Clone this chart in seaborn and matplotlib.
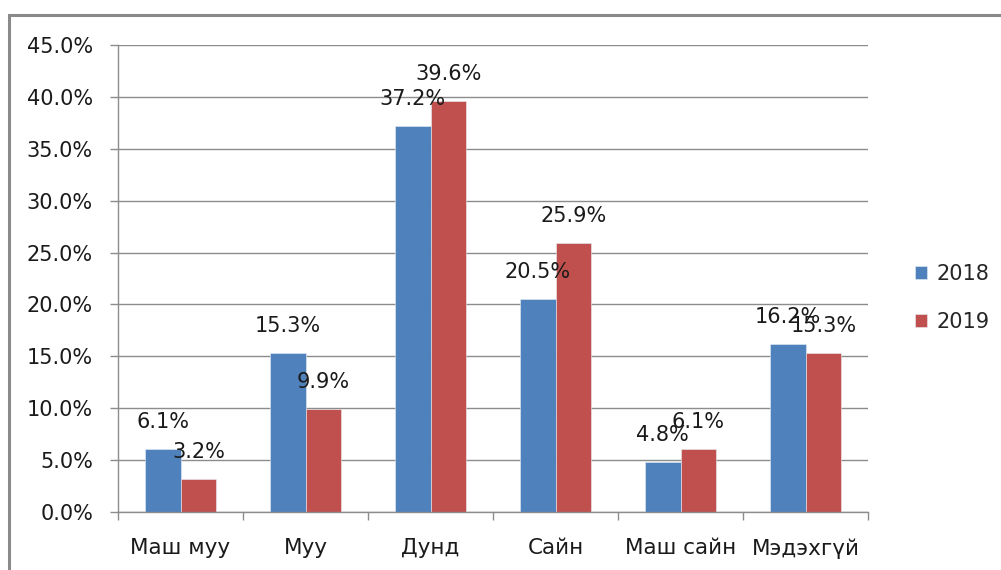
import pandas as pd
import matplotlib.pyplot as plt
import seaborn as sns
from matplotlib.patches import Rectangle
from matplotlib.ticker import FixedLocator, FuncFormatter

categories = ['Маш муу', 'Муу', 'Дунд', 'Сайн', 'Маш сайн', 'Мэдэхгүй']
years = ['2018', '2019']
values_2018 = [6.1, 15.3, 37.2, 20.5, 4.8, 16.2]
values_2019 = [3.2, 9.9, 39.6, 25.9, 6.1, 15.3]
yticks = [0, 5, 10, 15, 20, 25, 30, 35, 40, 45]

df = pd.DataFrame({
    'category': categories * 2,
    'year': [years[0]] * len(categories) + [years[1]] * len(categories),
    'value': values_2018 + values_2019,
})

sns.set_theme(style='white')
plt.rcParams['font.family'] = ['DejaVu Sans']

fig = plt.figure(figsize=(10.01, 5.70), dpi=100)
ax = fig.add_axes([118 / 1001, 1 - 512 / 570, 750 / 1001, 467 / 570])

grid_col = '#8c8c8c'
text_col = '#1a1a1a'
sns.barplot(data=df, x='category', y='value', hue='year', order=categories,
            hue_order=years, palette=['#4F81BD', '#C0504D'], saturation=1,
            width=0.57, edgecolor='#e8eef6', linewidth=0.4, ax=ax, legend=True)

ax.set_ylim(0, 45)
ax.set_xlim(-0.5, len(categories) - 0.5)
ax.set_yticks(yticks)
ax.yaxis.set_major_formatter(FuncFormatter(lambda v, p: f'{v:.1f}%'))
ax.yaxis.grid(True, color=grid_col, linewidth=1.0)
ax.set_axisbelow(True)
ax.set_xlabel('')
ax.set_ylabel('')

for s in ['top', 'right']:
    ax.spines[s].set_visible(False)
for s in ['left', 'bottom']:
    ax.spines[s].set_color(grid_col)
    ax.spines[s].set_linewidth(1.0)

ax.tick_params(axis='y', which='major', left=True, length=6, width=1.0,
               color=grid_col, labelsize=15, pad=12, labelcolor=text_col)
ax.tick_params(axis='x', which='major', bottom=False, labelsize=15.5, pad=13,
               labelcolor=text_col)
ax.xaxis.set_minor_locator(FixedLocator([i - 0.5 for i in range(len(categories) + 1)]))
ax.tick_params(axis='x', which='minor', bottom=True, length=6, width=1.0,
               color=grid_col)

for cont in ax.containers:
    for bar in cont:
        h = bar.get_height()
        ax.annotate(f'{h:.1f}%', (bar.get_x() + bar.get_width() / 2, h),
                    xytext=(0, 19.5), textcoords='offset points',
                    ha='center', va='center', fontsize=15, color=text_col)

handles, labels = ax.get_legend_handles_labels()
ax.legend(handles, labels, loc='center left', bbox_to_anchor=(896 / 1001, 0.477),
          bbox_transform=fig.transFigure, frameon=False, fontsize=15,
          handlelength=0.6, handleheight=0.6, handletextpad=0.45,
          labelspacing=1.35, title=None)

fig.patches.append(Rectangle((9 / 1001, -0.1), 1.2, 0.1 + 1 - 15 / 570,
                             transform=fig.transFigure, fill=False,
                             edgecolor='#8a8a8a', linewidth=2.2))

fig.savefig('out.png', dpi=100)
